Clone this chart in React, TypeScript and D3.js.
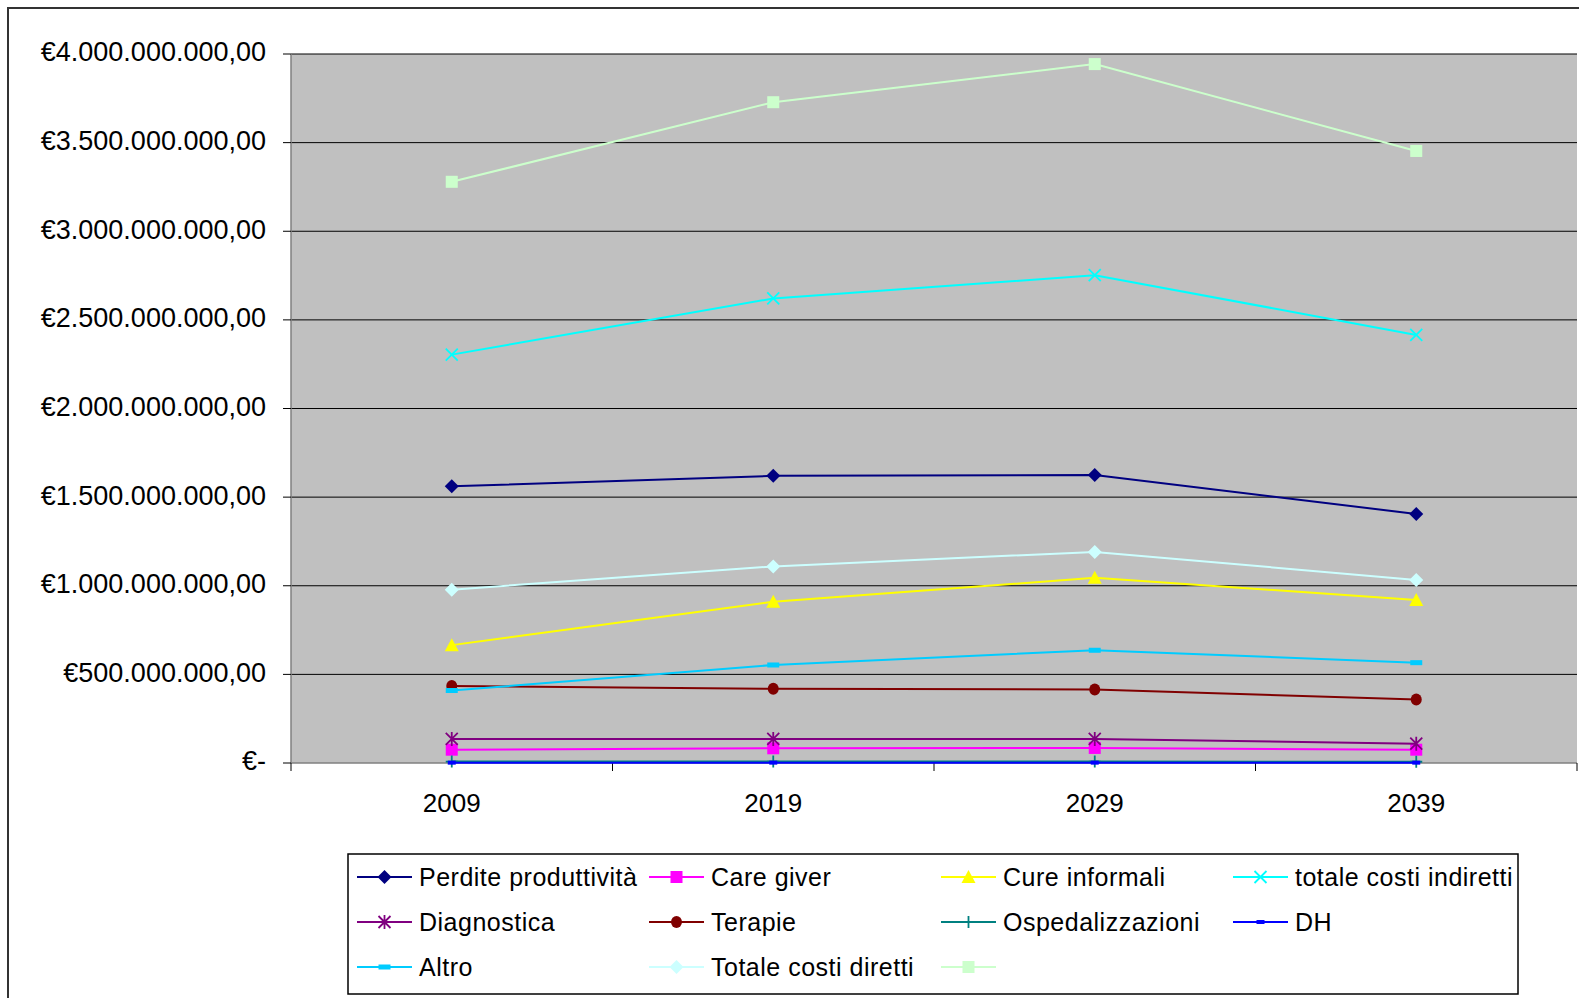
import React from "react";
import * as d3 from "d3";

const years = ["2009", "2019", "2029", "2039"];

const perdite = [1.561e9, 1.62e9, 1.625e9, 1.405e9];
const careGiver = [0.075e9, 0.083e9, 0.085e9, 0.075e9];
const cureInformali = [0.665e9, 0.91e9, 1.045e9, 0.92e9];
const totaleIndiretti = [2.304e9, 2.621e9, 2.752e9, 2.415e9];
const diagnostica = [0.136e9, 0.136e9, 0.136e9, 0.109e9];
const terapie = [0.434e9, 0.419e9, 0.415e9, 0.358e9];
const ospedalizzazioni = [0.008e9, 0.008e9, 0.008e9, 0.007e9];
const dh = [0.002e9, 0.002e9, 0.002e9, 0.002e9];
const altro = [0.409e9, 0.553e9, 0.636e9, 0.566e9];
const totaleDiretti = [0.978e9, 1.109e9, 1.191e9, 1.033e9];
const totale = [3.279e9, 3.728e9, 3.943e9, 3.453e9];

type Marker = "diamond" | "square" | "triangle" | "x" | "asterisk" | "circle" | "plus" | "dash" | "wdash";

const series: { name: string; values: number[]; color: string; marker: Marker }[] = [
  { name: "Perdite produttività", values: perdite, color: "#000080", marker: "diamond" },
  { name: "Care giver", values: careGiver, color: "#FF00FF", marker: "square" },
  { name: "Cure informali", values: cureInformali, color: "#FFFF00", marker: "triangle" },
  { name: "totale costi indiretti", values: totaleIndiretti, color: "#00FFFF", marker: "x" },
  { name: "Diagnostica", values: diagnostica, color: "#800080", marker: "asterisk" },
  { name: "Terapie", values: terapie, color: "#800000", marker: "circle" },
  { name: "Ospedalizzazioni", values: ospedalizzazioni, color: "#008080", marker: "plus" },
  { name: "DH", values: dh, color: "#0000FF", marker: "dash" },
  { name: "Altro", values: altro, color: "#00CCFF", marker: "wdash" },
  { name: "Totale costi diretti", values: totaleDiretti, color: "#CCFFFF", marker: "diamond" },
  { name: "", values: totale, color: "#CCFFCC", marker: "square" },
];

const W = 1579;
const H = 998;
const plot = { left: 291, right: 1577, top: 54, bottom: 763 };

const FONT = "'Liberation Sans', Arial, sans-serif";

const itLocale = d3.formatLocale({
  decimal: ",",
  thousands: ".",
  grouping: [3],
  currency: ["€", ""],
});
const fmt = itLocale.format("$,.2f");
const fmtTick = (v: number) => (v === 0 ? "€-" : fmt(v));

function MarkerShape({ type, color }: { type: Marker; color: string }) {
  switch (type) {
    case "diamond":
      return <path d="M0,-7L7,0L0,7L-7,0Z" fill={color} />;
    case "square":
      return <rect x={-6} y={-6} width={12} height={12} fill={color} />;
    case "triangle":
      return <path d="M0,-7L7,6L-7,6Z" fill={color} />;
    case "circle":
      return <ellipse rx={5.5} ry={6} fill={color} />;
    case "x":
      return <path d="M-6,-6L6,6M-6,6L6,-6" stroke={color} strokeWidth={1.8} fill="none" />;
    case "asterisk":
      return <path d="M-6,-6L6,6M-6,6L6,-6M0,-7L0,7" stroke={color} strokeWidth={1.8} fill="none" />;
    case "plus":
      return <path d="M0,-6L0,6M-6,0L6,0" stroke={color} strokeWidth={1.8} fill="none" />;
    case "dash":
      return <rect x={-4} y={-2} width={8} height={4} fill={color} />;
    case "wdash":
      return <rect x={-6} y={-2.5} width={12} height={5} fill={color} />;
  }
  return null;
}

export default function App() {
  const x = d3.scaleBand<string>().domain(years).range([plot.left, plot.right]).paddingInner(0).paddingOuter(0);
  const y = d3.scaleLinear().domain([0, 4e9]).range([plot.bottom, plot.top]);
  const yTicks = y.ticks(8);
  const bw = x.bandwidth();
  const cx = (yr: string) => (x(yr) as number) + bw / 2;
  const line = d3
    .line<number>()
    .x((_, i) => cx(years[i]))
    .y((v) => y(v));

  const xBoundaries = [...years.map((yr) => x(yr) as number), plot.right];

  const legendCols = [357, 649, 941, 1233];
  const legendRows = [877, 922, 967];

  return (
    <svg
      width={W}
      height={H}
      style={{ position: "absolute", left: 0, top: 0, background: "#fff" }}
      fontFamily={FONT}
    >
      {/* outer chart border */}
      <path d={`M8,${H + 5}L8,8L${W + 5},8`} fill="none" stroke="#333" strokeWidth={2} />

      {/* plot area */}
      <rect x={plot.left} y={plot.top} width={plot.right - plot.left} height={plot.bottom - plot.top} fill="#C0C0C0" />

      {/* gridlines */}
      {yTicks
        .filter((t) => t > 0)
        .map((t) => (
          <line key={t} x1={plot.left} x2={plot.right} y1={y(t)} y2={y(t)} stroke="#000" strokeWidth={1} />
        ))}

      {/* axes */}
      <line x1={plot.left} x2={plot.left} y1={plot.top} y2={plot.bottom} stroke="#808080" strokeWidth={1.5} />
      <line x1={plot.left} x2={plot.right} y1={plot.bottom} y2={plot.bottom} stroke="#808080" strokeWidth={1.5} />
      {yTicks.map((t) => (
        <g key={t}>
          <line x1={plot.left - 8} x2={plot.left} y1={y(t)} y2={y(t)} stroke="#000" strokeWidth={1} />
          <text x={266} y={y(t) - 2} dy="0.35em" textAnchor="end" fontSize={27} fill="#000">
            {fmtTick(t)}
          </text>
        </g>
      ))}
      {xBoundaries.map((bx, i) => (
        <line key={i} x1={bx} x2={bx} y1={plot.bottom} y2={plot.bottom + 8} stroke="#000" strokeWidth={1} />
      ))}
      {years.map((yr) => (
        <text key={yr} x={cx(yr)} y={803} dy="0.35em" textAnchor="middle" fontSize={26} fill="#000">
          {yr}
        </text>
      ))}

      {/* series */}
      {series.map((s, si) => (
        <g key={si}>
          <path d={line(s.values) || ""} fill="none" stroke={s.color} strokeWidth={2} />
          {s.values.map((v, i) => (
            <g key={i} transform={`translate(${cx(years[i])},${y(v)})`}>
              <MarkerShape type={s.marker} color={s.color} />
            </g>
          ))}
        </g>
      ))}

      {/* legend */}
      <rect x={348} y={854} width={1170} height={140} fill="#fff" stroke="#000" strokeWidth={1.5} />
      {series.map((s, i) => {
        const lx = legendCols[i % 4];
        const ly = legendRows[Math.floor(i / 4)];
        return (
          <g key={i}>
            <line x1={lx} x2={lx + 55} y1={ly} y2={ly} stroke={s.color} strokeWidth={2} />
            <g transform={`translate(${lx + 27.5},${ly})`}>
              <MarkerShape type={s.marker} color={s.color} />
            </g>
            <text x={lx + 62} y={ly} dy="0.35em" fontSize={25} letterSpacing={0.5} fill="#000">
              {s.name}
            </text>
          </g>
        );
      })}
    </svg>
  );
}
